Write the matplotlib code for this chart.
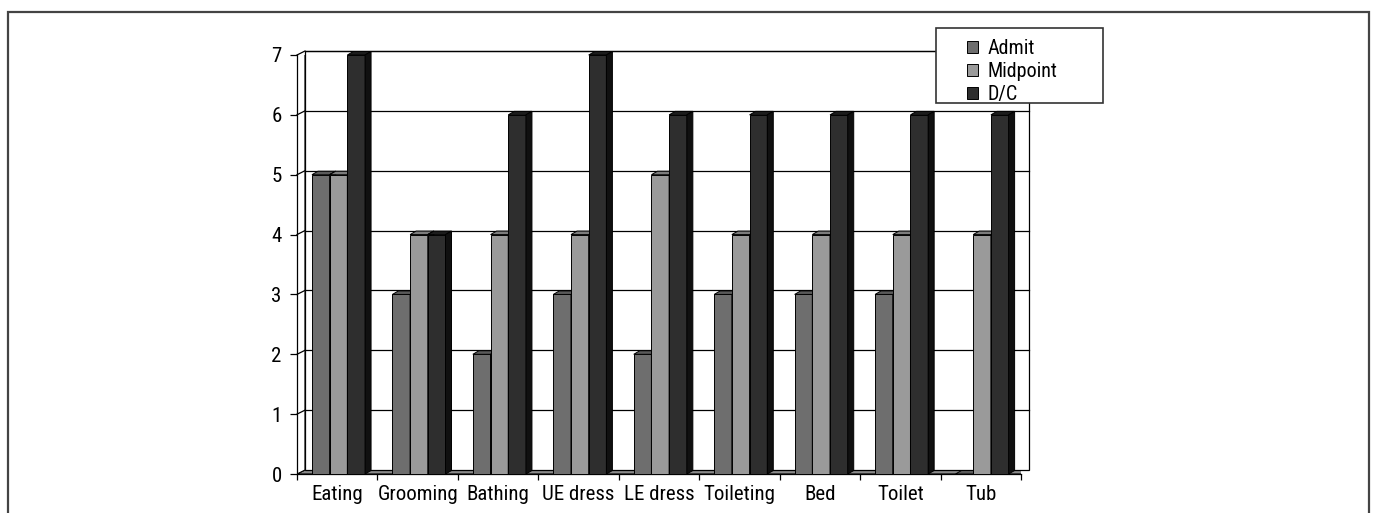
import matplotlib.pyplot as plt
from matplotlib.patches import Polygon, Rectangle, Patch

plt.rcParams['font.family'] = ['Liberation Sans Narrow', 'Roboto Condensed',
                               'DejaVu Sans Condensed', 'Liberation Sans', 'DejaVu Sans']

# scores per activity
categories = ['Eating', 'Grooming', 'Bathing', 'UE dress', 'LE dress',
              'Toileting', 'Bed', 'Toilet', 'Tub']
admit = [5, 3, 2, 3, 2, 3, 3, 3, 0]
midpoint = [5, 4, 4, 4, 5, 4, 4, 4, 4]
dc = [7, 4, 6, 7, 6, 6, 6, 6, 6]
series_names = ['Admit', 'Midpoint', 'D/C']

W, H = 1374, 513
fig = plt.figure(figsize=(W / 100, H / 100), dpi=100)

def fx(px):
    return px / W

def fy(py):
    return 1 - py / H

# outer frame
fig.patches.append(Rectangle((fx(8), fy(530)), fx(1369) - fx(8), fy(12) - fy(530),
                             transform=fig.transFigure, fill=False,
                             edgecolor='#444444', lw=1.6))

ax = fig.add_axes([fx(297), fy(474), (1021 - 297) / W, (474 - 55) / H])
ax.set_xlim(0, 9)
ax.set_ylim(0, 7)
ax.patch.set_visible(False)

n = len(categories)
ux = 9 / 724.0
uy = 7 / 419.0
wdx, wdy = 8 * ux, 4 * uy      # wall depth
bdx, bdy = 6 * ux, 3.5 * uy    # bar depth

# floor, left wall, back wall
ax.add_patch(Polygon([(0, 0), (n, 0), (n + wdx, wdy), (wdx, wdy)], closed=True,
                     facecolor='#8a8a8a', edgecolor='black', lw=0.8, zorder=1))
ax.add_patch(Polygon([(0, 0), (wdx, wdy), (wdx, 7 + wdy), (0, 7)], closed=True,
                     facecolor='white', edgecolor='black', lw=0.8, zorder=1))
ax.add_patch(Rectangle((wdx, wdy), n, 7, facecolor='white', edgecolor='black',
                       lw=0.9, zorder=1, clip_on=False))
for y in range(1, 8):
    ax.plot([wdx, n + wdx], [y + wdy, y + wdy], color='black', lw=0.9, zorder=1.5,
            clip_on=False)
    ax.plot([0, wdx], [y, y + wdy], color='black', lw=0.9, zorder=1.5, clip_on=False)

front = ['#6e6e6e', '#9a9a9a', '#2e2e2e']
top = ['#5a5a5a', '#7c7c7c', '#1c1c1c']
side = ['#474747', '#6a6a6a', '#101010']

bw = 0.22
start = 0.186
z = 2
for i in range(n):
    for s, vals in enumerate([admit, midpoint, dc]):
        x0 = i + start + s * bw
        v = vals[i]
        ax.bar(x0, v, width=bw, align='edge', color=front[s], edgecolor='black',
               lw=0.7, zorder=z, clip_on=False)
        ax.add_patch(Polygon([(x0, v), (x0 + bw, v), (x0 + bw + bdx, v + bdy),
                              (x0 + bdx, v + bdy)], closed=True, facecolor=top[s],
                             edgecolor='black', lw=0.7, zorder=z, clip_on=False))
        ax.add_patch(Polygon([(x0 + bw, 0), (x0 + bw + bdx, bdy),
                              (x0 + bw + bdx, v + bdy), (x0 + bw, v)], closed=True,
                             facecolor=side[s], edgecolor='black', lw=0.7, zorder=z,
                             clip_on=False))
        z += 0.01

for sp in ['top', 'right']:
    ax.spines[sp].set_visible(False)
ax.spines['left'].set_linewidth(0.9)
ax.spines['bottom'].set_linewidth(0.9)
ax.spines['left'].set_zorder(1.6)
ax.spines['bottom'].set_zorder(1.6)

ax.set_yticks(range(0, 8))
ax.tick_params(axis='y', length=5, width=0.9, pad=6, labelsize=15)
ax.set_xticks(range(0, n + 1))
ax.set_xticklabels([])
ax.tick_params(axis='x', which='major', length=4, width=0.9)
ax.set_xticks([i + 0.5 for i in range(n)], minor=True)
ax.set_xticklabels(categories, minor=True, fontsize=15)
ax.tick_params(axis='x', which='minor', length=0, pad=8)

# legend box
fig.patches.append(Rectangle((fx(936), fy(103)), fx(1103) - fx(936), fy(28) - fy(103),
                             transform=fig.transFigure, facecolor='white',
                             edgecolor='#333333', lw=1.2, zorder=5))
handles = [Patch(facecolor=front[s], edgecolor='black', lw=0.7) for s in range(3)]
leg = fig.legend(handles, series_names, loc='upper left',
                 bbox_to_anchor=(fx(953), fy(25)), frameon=False, fontsize=14.5,
                 handlelength=0.55, handleheight=0.55, handletextpad=0.45,
                 labelspacing=0.2, borderpad=0.2)
leg.set_zorder(6)

fig.savefig('out.png', dpi=100)
